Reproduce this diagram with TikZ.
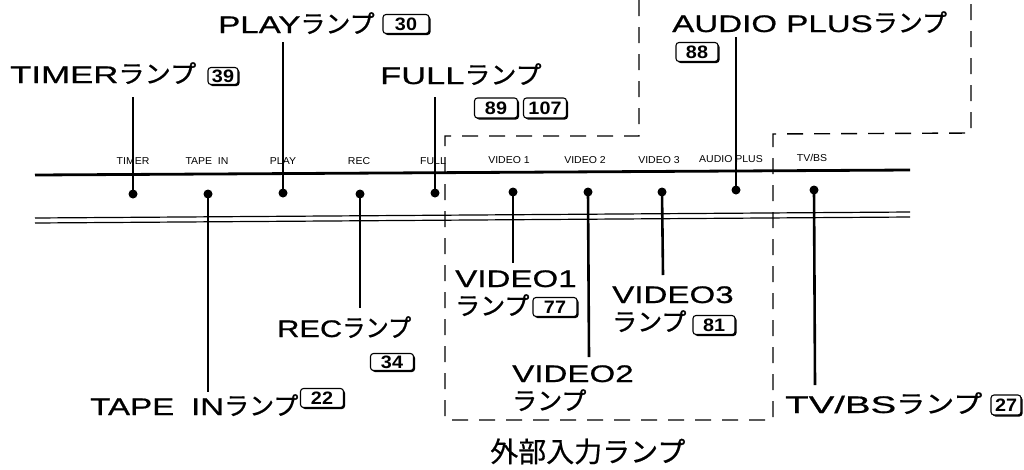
\documentclass[tikz,border=0pt]{standalone}
\usepackage{fontspec}
\usepackage{graphicx}
\setmainfont{Liberation Sans}
\newfontfamily\latf[FakeStretch=1.38,FakeBold=0.7]{Liberation Sans}
\newfontfamily\smallf[FakeStretch=1.05]{Liberation Sans}
\newfontfamily\jpf[FakeBold=0.7]{Noto Sans CJK JP}
\newfontfamily\extf[FakeBold=0.5]{Noto Sans CJK JP}
\newfontfamily\numf[FakeStretch=1.1]{Liberation Sans}
\usetikzlibrary{shadows}
\newcommand\labL{\fontsize{24}{28}\latf}
\newcommand\labJ{\fontsize{25}{28}\jpf}
\begin{document}
\begin{tikzpicture}[x=1pt,y=-1pt,
 biglab/.style={anchor=base west, inner sep=0pt, font=\labL},
 tick/.style={anchor=base, inner sep=0pt, font=\fontsize{10}{10}\smallf},
 numbox/.style={draw, fill=white, rounded corners=3pt, line width=1.1pt, inner sep=0pt,
   minimum height=19pt, minimum width=43pt, font=\fontsize{18}{18}\numf\bfseries,
   drop shadow={shadow xshift=1.5pt, shadow yshift=-1.5pt, opacity=1, fill=black}},
 leader/.style={line width=2.6pt},
 dotm/.style={circle, fill=black, inner sep=0pt, minimum size=9pt},
 frame/.style={line width=1.4pt, dash pattern=on 16pt off 11pt},
]
\useasboundingbox (0,0) rectangle (1024,469);

% panel lines
\coordinate (pl1) at (35,175); \coordinate (pr1) at (910,170);
\coordinate (pl2) at (35,218); \coordinate (pr2) at (910,212);
\coordinate (pl3) at (35,223); \coordinate (pr3) at (910,217);
\draw[line width=2.8pt] (pl1) -- (pr1);
\draw[line width=1.2pt] (pl2) -- (pr2);
\draw[line width=1.2pt] (pl3) -- (pr3);

% dashed frame
\draw[frame] (639,0) -- (639,136) -- (445,136) -- (445,420) -- (773,420) -- (773,134) -- (971,133) -- (971,0);

% small panel labels
\node[tick] (tTimer) at (133,164) {TIMER};
\node[tick] (tTape)  at (207,164) {TAPE\ \ IN};
\node[tick] (tPlay)  at (283,164) {PLAY};
\node[tick] (tRec)   at (359,164) {REC};
\node[tick] (tFull)  at (433,164) {FULL};
\node[tick] (tV1)    at (509,163) {VIDEO 1};
\node[tick] (tV2)    at (585,163) {VIDEO 2};
\node[tick] (tV3)    at (659,163) {VIDEO 3};
\node[tick] (tAud)   at (731,162) {AUDIO PLUS};
\node[tick] (tTv)    at (812,161) {TV/BS};

% dots
\node[dotm] (dTimer) at (133,194) {};
\node[dotm] (dTape)  at (208,194) {};
\node[dotm] (dPlay)  at (283,193) {};
\node[dotm] (dRec)   at (360,194) {};
\node[dotm] (dFull)  at (435,193) {};
\node[dotm] (dV1)    at (513,192) {};
\node[dotm] (dV2)    at (588,192) {};
\node[dotm] (dV3)    at (662,192) {};
\node[dotm] (dAud)   at (736,190) {};
\node[dotm] (dTv)    at (814,190) {};

% leader ends
\coordinate (eTimer) at (133,97);
\coordinate (eTape)  at (208,392);
\coordinate (ePlay)  at (283,42);
\coordinate (eRec)   at (360,308);
\coordinate (eFull)  at (435,97);
\coordinate (eV1)    at (513,263);
\coordinate (eV2)    at (589,357);
\coordinate (eV3)    at (663,275);
\coordinate (eAud)   at (736,37);
\coordinate (eTv)    at (815,385);

\foreach \n in {Timer,Tape,Play,Rec,Full,V1,V2,V3,Aud,Tv}
  \draw[leader] (d\n.center) -- (e\n);

% big labels
\node[biglab] (lTimer) at (10,83)  {\scalebox{1.05}[1]{TIMER\labJ ランプ}};
\node[numbox, minimum width=30pt, minimum height=17pt] (bTimer) at (223,76) {39};

\node[biglab] (lPlay) at (218,33) {PLAY\labJ ランプ};
\node[numbox, minimum width=46pt] (bPlay) at (406,24) {30};

\node[biglab] (lFull) at (380,84) {\scalebox{1.04}[1]{FULL\labJ ランプ}};
\node[numbox, minimum height=20pt] (bFull1) at (496,108) {89};
\node[numbox, minimum height=20pt] (bFull2) at (545,108) {107};

\node[biglab] (lAud) at (672,32) {AUDIO PLUS\labJ ランプ};
\node[numbox, minimum width=42pt] (bAud) at (697,52) {88};

\node[biglab] (lTape) at (90,415) {TAPE\hspace{0.7em}IN\labJ ランプ};
\node[numbox] (bTape) at (322,398) {22};

\node[biglab] (lRec) at (277,337) {\scalebox{0.93}[1]{REC\labJ ランプ}};
\node[numbox, minimum height=17pt] (bRec) at (392,362) {34};

\node[biglab] (lV1) at (455,287) {VIDEO1};
\node[biglab, font=\labJ] (lV1b) at (455,315) {ランプ};
\node[numbox, minimum width=44pt] (bV1) at (555,307) {77};

\node[biglab] (lV2) at (512,382) {VIDEO2};
\node[biglab, font=\labJ] (lV2b) at (512,410) {ランプ};

\node[biglab] (lV3) at (612,303) {VIDEO3};
\node[biglab, font=\labJ] (lV3b) at (612,331) {ランプ};
\node[numbox, minimum width=42pt] (bV3) at (714,325) {81};

\node[biglab] (lTv) at (785,413) {\scalebox{1.16}[1]{TV/BS\labJ ランプ}};
\node[numbox, minimum width=30pt, minimum height=20pt] (bTv) at (1006,405) {27};

\node[anchor=base west, inner sep=0pt, font=\fontsize{28}{30}\extf] (lExt) at (490,462) {外部入力ランプ};
\end{tikzpicture}
\end{document}
